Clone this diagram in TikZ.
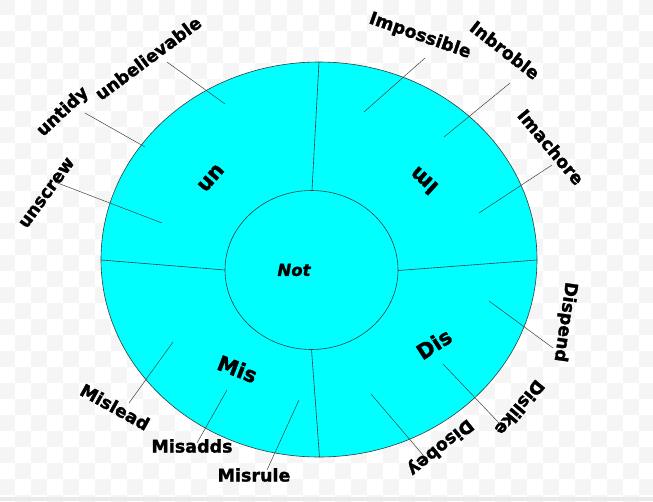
\documentclass[tikz,border=0pt]{standalone}
\usepackage{fontspec}
\setmainfont{DejaVu Sans}[BoldFeatures={FakeBold=1.6}, BoldItalicFeatures={FakeBold=1.6}]
\definecolor{bgchk}{HTML}{F5F5F5}
\definecolor{segfill}{HTML}{00FFFF}
\definecolor{edgecol}{HTML}{2F3F3F}
\definecolor{leadcol}{HTML}{404040}
\definecolor{stripcol}{HTML}{EBEBEB}
\tikzset{
  outerlbl/.style={font=\fontsize{17.5}{20}\selectfont\bfseries, inner sep=0pt},
  seclbl/.style={font=\fontsize{21}{24}\selectfont\bfseries, inner sep=0pt},
  notlbl/.style={font=\fontsize{16.5}{18}\selectfont\bfseries\itshape, inner sep=0pt},
  leaderline/.style={draw=leadcol, line width=0.5pt},
  divline/.style={draw=edgecol, line width=0.6pt},
  ringshape/.style={draw=edgecol, line width=0.6pt, fill=segfill}
}
\begin{document}
\begin{tikzpicture}[x=1pt,y=-1pt]
\useasboundingbox (0,0) rectangle (653,501);
\fill[white] (0,0) rectangle (653,501);
\foreach \i in {0,...,40}{
  \foreach \j in {0,...,31}{
    \ifodd\numexpr\i+\j\relax\else
      \fill[bgchk] (16*\i-1,16*\j-1) rectangle ++(16,16);
    \fi
  }
}
\fill[stripcol] (0,497) rectangle (653,501);

% outer ring
\coordinate (C) at (319,259.5);
\draw[ringshape] (C) ellipse [x radius=218pt, y radius=197.5pt];

% dividers
\coordinate (oT) at (319,62);    \coordinate (iT) at (312,190.5);
\coordinate (oR) at (537,260);   \coordinate (iR) at (398,270.5);
\coordinate (oL) at (101,260);   \coordinate (iL) at (225,270);
\coordinate (oB) at (319.5,457); \coordinate (iB) at (311.5,349.5);
\draw[divline] (iT) -- (oT);
\draw[divline] (iR) -- (oR);
\draw[divline] (iL) -- (oL);
\draw[divline] (iB) -- (oB);

% inner circle
\coordinate (c) at (311.5,270);
\draw[ringshape] (c) ellipse [x radius=86.5pt, y radius=79.5pt];

% section labels
\node[notlbl] (not) at (294,270) {Not};
\node[seclbl, rotate=229] (un) at (211,178) {un};
\node[seclbl, rotate=138] (im) at (423.5,181) {Im};
\node[seclbl, rotate=33] (dis) at (434,344) {Dis};
\node[seclbl, rotate=-21] (mis) at (237.5,369) {Mis};

% outer labels
\node[outerlbl, rotate=36.6] (lUnbel) at (148,58) {unbelievable};
\node[outerlbl, rotate=43] (lUntidy) at (63,112) {untidy};
\node[outerlbl, rotate=54] (lUnscrew) at (47,193) {unscrew};
\node[outerlbl, rotate=-19.3] (lImposs) at (420,36) {Impossible};
\node[outerlbl, rotate=-38] (lInbro) at (505,50) {Inbroble};
\node[outerlbl, rotate=-50] (lImach) at (551,147) {Imachore};
\node[outerlbl, rotate=-98] (lDispend) at (565,322) {Dispend};
\node[outerlbl, rotate=-130] (lDislike) at (520,408) {Dislike};
\node[outerlbl, rotate=-141] (lDisobey) at (440,447) {Disobey};
\node[outerlbl, rotate=-29] (lMislead) at (115,407) {Mislead};
\node[outerlbl] (lMisadds) at (192,446) {Misadds};
\node[outerlbl] (lMisrule) at (254,475) {Misrule};

% leader line ends
\coordinate (a1) at (225,104);  \coordinate (b1) at (167,62);
\coordinate (a2) at (145,147);  \coordinate (b2) at (85,113);
\coordinate (a3) at (162,223);  \coordinate (b3) at (55,182);
\coordinate (a4) at (364,112);  \coordinate (b4) at (425,58);
\coordinate (a5) at (444,137);  \coordinate (b5) at (510,83);
\coordinate (a6) at (479,213);  \coordinate (b6) at (552,165);
\coordinate (a7) at (489,301);  \coordinate (b7) at (553,348);
\coordinate (a8) at (443,364);  \coordinate (b8) at (500,424);
\coordinate (a9) at (371,394);  \coordinate (b9) at (423,455);
\coordinate (a10) at (173,342); \coordinate (b10) at (129,403);
\coordinate (a11) at (227,390); \coordinate (b11) at (197,443);
\coordinate (a12) at (299,400); \coordinate (b12) at (267,470);
\foreach \k in {1,...,12}{\draw[leaderline] (a\k) -- (b\k);}
\end{tikzpicture}
\end{document}
